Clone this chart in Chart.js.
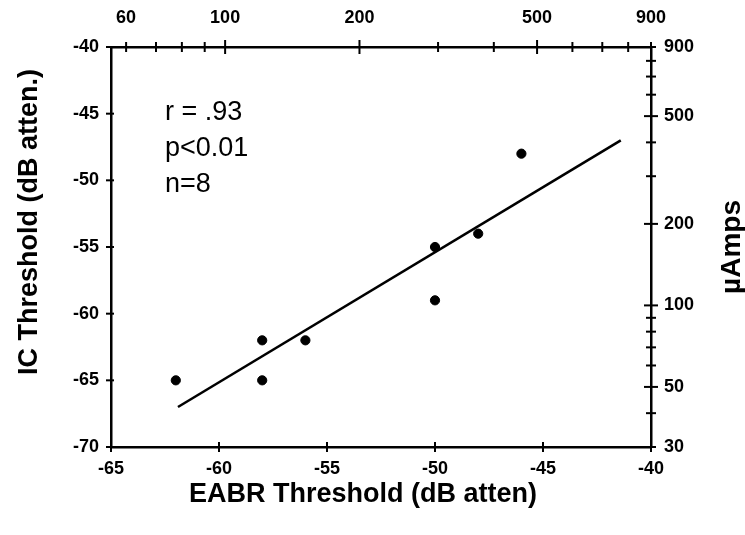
<!DOCTYPE html>
<html>
<head>
<meta charset="utf-8">
<script src="https://cdn.jsdelivr.net/npm/chart.js@4/dist/chart.umd.min.js"></script>
<style>
  html, body { margin: 0; padding: 0; background: #ffffff; }
  #wrap { width: 745px; height: 535px; }
</style>
</head>
<body>
<div id="wrap"><canvas id="c" width="745" height="535"></canvas></div>
<script>
// ---- data ----
const eabrThreshold = [-62, -58, -58, -56, -50, -50, -48, -46];
const icThreshold   = [-65, -62, -65, -62, -55, -59, -54, -48];
const fitX = [-61.9, -41.4];
const fitY = [-67.0, -47.0];
const bottomTicks = [-65, -60, -55, -50, -45, -40];
const leftTicks = [-70, -65, -60, -55, -50, -45, -40];
const topTicks = [60, 70, 80, 90, 100, 200, 300, 400, 500, 600, 700, 800, 900];
const topLabels = [60, 100, 200, 500, 900];
const rightTicks = [30, 40, 50, 60, 70, 80, 90, 100, 200, 300, 400, 500, 600, 700, 800, 900];
const rightLabels = [30, 50, 100, 200, 500, 900];
const statsLines = ['r = .93', 'p<0.01', 'n=8'];
const statsY = [-44.95, -47.65, -50.3];
const statsX = -62.5;
const xTitle = 'EABR Threshold (dB atten)';
const yTitle = 'IC Threshold (dB atten.)';
const y2Title = 'µAmps';

const FONT = "'Liberation Sans', Arial, Helvetica, sans-serif";
const tickFont = { family: FONT, size: 18, weight: 'bold' };

const points = eabrThreshold.map((x, i) => ({ x: x, y: icThreshold[i] }));
const fitLine = fitX.map((x, i) => ({ x: x, y: fitY[i] }));

function fixedSize(prop, v) {
  return function (scale) { scale[prop] = v; };
}

const crossTicks = {
  id: 'crossTicks',
  afterDraw(chart) {
    const ctx = chart.ctx;
    const a = chart.chartArea;
    ctx.save();
    ctx.strokeStyle = '#000';
    ctx.lineWidth = 2;
    ctx.lineCap = 'butt';
    const s = chart.scales;
    s.x.ticks.forEach(t => {
      const p = s.x.getPixelForValue(t.value);
      ctx.beginPath(); ctx.moveTo(p, a.bottom - 5); ctx.lineTo(p, a.bottom + 5); ctx.stroke();
    });
    s.y.ticks.forEach(t => {
      const p = s.y.getPixelForValue(t.value);
      ctx.beginPath(); ctx.moveTo(a.left - 5, p); ctx.lineTo(a.left + 3, p); ctx.stroke();
    });
    s.xTop.ticks.forEach(t => {
      const p = s.xTop.getPixelForValue(t.value);
      const big = topLabels.includes(t.value) && t.value !== 60 && t.value !== 900;
      const L = big ? 7 : 5;
      ctx.beginPath(); ctx.moveTo(p, a.top - L); ctx.lineTo(p, a.top + L); ctx.stroke();
    });
    s.yRight.ticks.forEach(t => {
      const p = s.yRight.getPixelForValue(t.value);
      const big = rightLabels.includes(t.value) && t.value !== 30 && t.value !== 900;
      const L = big ? 7 : 5;
      ctx.beginPath(); ctx.moveTo(a.right - L, p); ctx.lineTo(a.right + L, p); ctx.stroke();
    });
    ctx.restore();
  }
};

const extraText = {
  id: 'extraText',
  afterDraw(chart) {
    const ctx = chart.ctx;
    const s = chart.scales;
    const a = chart.chartArea;
    ctx.save();
    ctx.fillStyle = '#000';
    ctx.font = "27px " + FONT;
    ctx.textAlign = 'left';
    ctx.textBaseline = 'middle';
    statsLines.forEach((txt, i) => {
      ctx.fillText(txt, s.x.getPixelForValue(statsX), s.y.getPixelForValue(statsY[i]));
    });
    ctx.font = "bold 27px " + FONT;
    ctx.textAlign = 'center';
    ctx.textBaseline = 'middle';
    // bottom title
    ctx.fillText(xTitle, a.left + 252, a.bottom + 48);
    // left title
    ctx.save();
    ctx.translate(a.left - 81, a.top + 175);
    ctx.rotate(-Math.PI / 2);
    ctx.fillText(yTitle, 0, 0);
    ctx.restore();
    // right title
    ctx.font = "bold 28px " + FONT;
    ctx.translate(a.right + 81, (a.top + a.bottom) / 2);
    ctx.rotate(-Math.PI / 2);
    ctx.fillText(y2Title, 0, 0);
    ctx.restore();
  }
};

const gridOff = { display: true, drawOnChartArea: false, drawTicks: false, color: 'rgba(0,0,0,0)' };
const borderOn = { display: true, color: '#000', width: 2.5 };

new Chart(document.getElementById('c'), {
  type: 'scatter',
  data: {
    datasets: [
      {
        label: 'data',
        data: points,
        backgroundColor: '#000',
        borderColor: '#000',
        pointRadius: 4.6,
        pointHoverRadius: 4.6,
        xAxisID: 'x',
        yAxisID: 'y'
      },
      {
        label: 'fit',
        data: fitLine,
        showLine: true,
        borderColor: '#000',
        borderWidth: 2.6,
        pointRadius: 0,
        fill: false,
        xAxisID: 'x',
        yAxisID: 'y'
      }
    ]
  },
  options: {
    responsive: false,
    animation: false,
    devicePixelRatio: 1,
    layout: { padding: 0 },
    plugins: { legend: { display: false }, tooltip: { enabled: false } },
    scales: {
      x: {
        type: 'linear', position: 'bottom', min: -65, max: -40,
        afterBuildTicks: sc => { sc.ticks = bottomTicks.map(v => ({ value: v })); },
        afterFit: fixedSize('height', 88),
        grid: gridOff, border: borderOn,
        ticks: { color: '#000', font: tickFont, padding: 11, maxRotation: 0, autoSkip: false }
      },
      y: {
        type: 'linear', position: 'left', min: -70, max: -40,
        afterBuildTicks: sc => { sc.ticks = leftTicks.map(v => ({ value: v })); },
        afterFit: fixedSize('width', 111),
        grid: gridOff, border: borderOn,
        ticks: { color: '#000', font: tickFont, padding: 12, autoSkip: false }
      },
      xTop: {
        type: 'logarithmic', position: 'top', min: 55.5, max: 900,
        afterBuildTicks: sc => { sc.ticks = topTicks.map(v => ({ value: v })); },
        afterFit: fixedSize('height', 47),
        grid: gridOff, border: borderOn,
        ticks: { color: '#000', font: tickFont, padding: 18, maxRotation: 0, autoSkip: false,
                 callback: v => topLabels.includes(v) ? String(v) : '' }
      },
      yRight: {
        type: 'logarithmic', position: 'right', min: 30, max: 900,
        afterBuildTicks: sc => { sc.ticks = rightTicks.map(v => ({ value: v })); },
        afterFit: fixedSize('width', 94),
        grid: gridOff, border: borderOn,
        ticks: { color: '#000', font: tickFont, padding: 13, autoSkip: false,
                 callback: v => rightLabels.includes(v) ? String(v) : '' }
      }
    }
  },
  plugins: [crossTicks, extraText]
});
</script>
</body>
</html>
